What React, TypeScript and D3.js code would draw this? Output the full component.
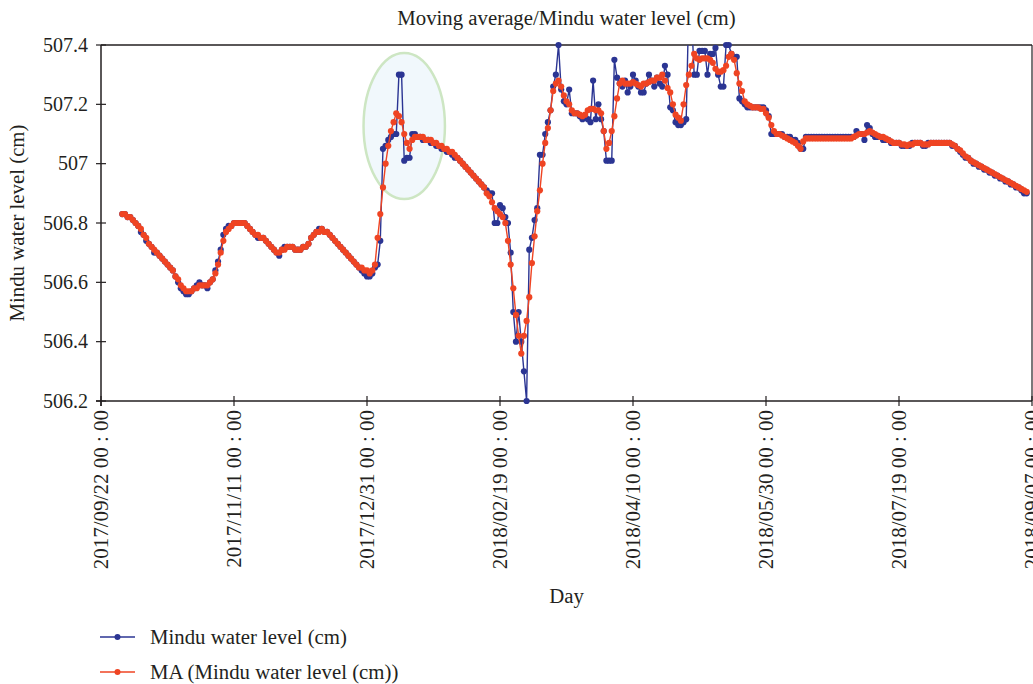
import React from "react";
import * as d3 from "d3";

const START_DATE = "2017-09-30";
const AXIS_START = "2017-09-22";
const AXIS_END = "2018-09-07";
const TICK_DATES = ["2017-09-22", "2017-11-11", "2017-12-31", "2018-02-19", "2018-04-10", "2018-05-30", "2018-07-19", "2018-09-07"];
const TICK_LABELS = ["2017/09/22 00 : 00", "2017/11/11 00 : 00", "2017/12/31 00 : 00", "2018/02/19 00 : 00", "2018/04/10 00 : 00", "2018/05/30 00 : 00", "2018/07/19 00 : 00", "2018/09/07 00 : 00"];
const Y_TICKS = [506.2, 506.4, 506.6, 506.8, 507, 507.2, 507.4];
const SERIES_NAMES = ["Mindu water level (cm)", "MA (Mindu water level (cm))"];
const TITLE = "Moving average/Mindu water level (cm)";
const X_TITLE = "Day";
const Y_TITLE = "Mindu water level (cm)";

// daily water level from 2017-09-30
const levels = [
  506.83, 506.83, 506.82, 506.82, 506.81, 506.80, 506.79, 506.77, 506.76, 506.74,
  506.73, 506.72, 506.70, 506.70, 506.69, 506.68, 506.67, 506.66, 506.65, 506.64,
  506.62, 506.60, 506.58, 506.57, 506.56, 506.56, 506.57, 506.58, 506.59, 506.60,
  506.59, 506.59, 506.58, 506.60, 506.61, 506.64, 506.67, 506.71, 506.76, 506.78,
  506.79, 506.79, 506.80, 506.80, 506.80, 506.80, 506.80, 506.79, 506.78, 506.77, 506.76,
  506.75, 506.75, 506.75, 506.74, 506.73, 506.72, 506.71, 506.70, 506.69, 506.71,
  506.72, 506.72, 506.72, 506.72, 506.71, 506.71, 506.71, 506.72, 506.72, 506.73, 506.75,
  506.76, 506.77, 506.78, 506.78, 506.77, 506.77, 506.76, 506.75, 506.74, 506.73,
  506.72, 506.71, 506.70, 506.69, 506.68, 506.67, 506.66, 506.65, 506.64, 506.63,
  506.62, 506.62, 506.63, 506.65, 506.66, 506.74, 507.05, 507.06, 507.08, 507.09,
  507.10, 507.10, 507.30, 507.30, 507.01, 507.02, 507.02, 507.10, 507.10, 507.09,
  507.09, 507.08, 507.08, 507.08, 507.07, 507.07, 507.06, 507.06, 507.05, 507.05, 507.04,
  507.04, 507.03, 507.02, 507.02, 507.01, 507.00, 506.99, 506.98, 506.97, 506.96,
  506.95, 506.94, 506.93, 506.92, 506.91, 506.90, 506.90, 506.80, 506.80, 506.86,
  506.85, 506.82, 506.80, 506.70, 506.50, 506.40, 506.50, 506.40, 506.30, 506.20,
  506.71, 506.75, 506.81, 506.85, 507.03, 507.03, 507.10, 507.14, 507.18, 507.26,
  507.30, 507.40, 507.25, 507.21, 507.20, 507.25, 507.17, 507.17, 507.17, 507.16, 507.15,
  507.16, 507.15, 507.14, 507.28, 507.15, 507.20, 507.15, 507.11, 507.01, 507.01,
  507.01, 507.35, 507.29, 507.27, 507.26, 507.28, 507.24, 507.26, 507.30, 507.28,
  507.26, 507.24, 507.24, 507.27, 507.30, 507.28, 507.26, 507.29, 507.27, 507.26,
  507.33, 507.30, 507.19, 507.18, 507.14, 507.13, 507.13, 507.14, 507.15, 507.55,
  507.50, 507.30, 507.30, 507.38, 507.38, 507.38, 507.30, 507.37, 507.37, 507.39,
  507.30, 507.26, 507.26, 507.40, 507.40, 507.37, 507.36, 507.36, 507.22, 507.21,
  507.20, 507.19, 507.19, 507.19, 507.19, 507.19, 507.19, 507.19, 507.18, 507.16, 507.10,
  507.10, 507.10, 507.10, 507.10, 507.09, 507.09, 507.09, 507.08, 507.08, 507.07,
  507.05, 507.05, 507.09, 507.09, 507.09, 507.09, 507.09, 507.09, 507.09, 507.09,
  507.09, 507.09, 507.09, 507.09, 507.09, 507.09, 507.09, 507.09, 507.09, 507.09, 507.09,
  507.11, 507.10, 507.10, 507.08, 507.13, 507.12, 507.10, 507.09, 507.09, 507.09,
  507.08, 507.08, 507.08, 507.07, 507.07, 507.07, 507.07, 507.06, 507.06, 507.06,
  507.06, 507.07, 507.07, 507.07, 507.07, 507.06, 507.06, 507.07, 507.07, 507.07,
  507.07, 507.07, 507.07, 507.07, 507.07, 507.07, 507.06, 507.06, 507.05, 507.04, 507.03,
  507.02, 507.02, 507.01, 507.00, 507.00, 506.99, 506.99, 506.98, 506.98, 506.97,
  506.97, 506.96, 506.96, 506.95, 506.95, 506.94, 506.94, 506.93, 506.93, 506.92,
  506.92, 506.91, 506.90, 506.90,
];

// moving average of the water level, same days
const movingAvg = [
  506.83, 506.83, 506.82, 506.82, 506.81, 506.80, 506.79, 506.78, 506.76, 506.75,
  506.73, 506.72, 506.71, 506.70, 506.69, 506.68, 506.67, 506.66, 506.65, 506.64,
  506.62, 506.61, 506.59, 506.58, 506.57, 506.57, 506.57, 506.58, 506.58, 506.59,
  506.59, 506.59, 506.59, 506.60, 506.61, 506.63, 506.66, 506.70, 506.74, 506.77,
  506.78, 506.79, 506.80, 506.80, 506.80, 506.80, 506.80, 506.79, 506.78, 506.77, 506.76,
  506.76, 506.75, 506.75, 506.74, 506.73, 506.72, 506.71, 506.70, 506.70, 506.71,
  506.71, 506.72, 506.72, 506.72, 506.71, 506.71, 506.71, 506.72, 506.72, 506.73, 506.75,
  506.76, 506.77, 506.77, 506.78, 506.77, 506.77, 506.76, 506.75, 506.74, 506.73,
  506.72, 506.71, 506.70, 506.69, 506.68, 506.67, 506.66, 506.65, 506.65, 506.64,
  506.64, 506.63, 506.64, 506.66, 506.75, 506.83, 506.92, 507.00, 507.06, 507.11,
  507.14, 507.17, 507.16, 507.14, 507.10, 507.07, 507.05, 507.08, 507.09, 507.09,
  507.09, 507.09, 507.08, 507.08, 507.08, 507.07, 507.07, 507.06, 507.06, 507.05, 507.05,
  507.04, 507.04, 507.03, 507.02, 507.01, 507.00, 506.99, 506.98, 506.97, 506.96,
  506.95, 506.94, 506.93, 506.92, 506.90, 506.89, 506.87, 506.85, 506.84, 506.83,
  506.82, 506.80, 506.74, 506.66, 506.58, 506.49, 506.42, 506.36, 506.42, 506.47,
  506.55, 506.665, 506.755, 506.84, 506.91, 507.00, 507.07, 507.12, 507.18, 507.245,
  507.27, 507.28, 507.26, 507.23, 507.21, 507.20, 507.18, 507.17, 507.17, 507.165, 507.16,
  507.165, 507.18, 507.185, 507.185, 507.18, 507.18, 507.17, 507.11, 507.05, 507.07,
  507.11, 507.16, 507.22, 507.27, 507.28, 507.27, 507.27, 507.27, 507.275, 507.27,
  507.265, 507.26, 507.27, 507.27, 507.275, 507.28, 507.28, 507.29, 507.29, 507.30,
  507.28, 507.255, 507.24, 507.20, 507.165, 507.155, 507.145, 507.20, 507.265, 507.30,
  507.33, 507.37, 507.355, 507.35, 507.355, 507.355, 507.355, 507.35, 507.34, 507.32,
  507.31, 507.31, 507.315, 507.33, 507.36, 507.37, 507.35, 507.305, 507.27, 507.245,
  507.21, 507.20, 507.195, 507.19, 507.19, 507.19, 507.185, 507.185, 507.17, 507.155, 507.13,
  507.11, 507.10, 507.10, 507.095, 507.09, 507.085, 507.08, 507.075, 507.07, 507.06,
  507.05, 507.075, 507.085, 507.085, 507.085, 507.085, 507.085, 507.085, 507.085, 507.085,
  507.085, 507.085, 507.085, 507.085, 507.085, 507.085, 507.085, 507.085, 507.085, 507.085, 507.09,
  507.095, 507.10, 507.10, 507.10, 507.105, 507.11, 507.105, 507.10, 507.095, 507.09,
  507.09, 507.085, 507.08, 507.075, 507.07, 507.07, 507.07, 507.065, 507.065, 507.06,
  507.065, 507.065, 507.07, 507.07, 507.07, 507.065, 507.065, 507.065, 507.07, 507.07,
  507.07, 507.07, 507.07, 507.07, 507.07, 507.07, 507.065, 507.06, 507.05, 507.045, 507.035,
  507.025, 507.02, 507.01, 507.005, 507.00, 506.995, 506.99, 506.985, 506.98, 506.975,
  506.97, 506.965, 506.96, 506.955, 506.95, 506.945, 506.94, 506.935, 506.93, 506.925,
  506.92, 506.915, 506.91, 506.905,
];

// highlighted anomaly (ellipse annotation)
const HIGHLIGHT_CENTER_DATE = "2018-01-14";
const HIGHLIGHT_CENTER_VALUE = 507.127;
const HIGHLIGHT_HALF_DAYS = 15.3;
const HIGHLIGHT_HALF_VALUE = 0.246;

const W = 1033;
const H = 684;
const M = { left: 101, right: 1032, top: 45, bottom: 401 };
const FONT = "'Liberation Serif', 'Times New Roman', serif";
const BLUE = "#2b3593";
const RED = "#ef4423";
const INK = "#231f20";
const MARKER_R = 3.1;

export default function App() {
  const parse = d3.utcParse("%Y-%m-%d");
  const start = parse(START_DATE) as Date;
  const x = d3.scaleUtc().domain([parse(AXIS_START) as Date, parse(AXIS_END) as Date]).range([M.left, M.right]);
  const y = d3.scaleLinear().domain([506.2, 507.4]).range([M.bottom, M.top]);

  const pts = (arr: number[]) => arr.map((v, i) => ({ d: d3.utcDay.offset(start, i), v }));
  const blue = pts(levels);
  const red = pts(movingAvg);
  const line = d3.line<{ d: Date; v: number }>().x((p) => x(p.d)).y((p) => y(p.v));

  const inRange = (v: number) => v >= 506.2 - 1e-9 && v <= 507.4 + 1e-9;

  const hc = parse(HIGHLIGHT_CENTER_DATE) as Date;
  const ecx = x(hc);
  const ecy = y(HIGHLIGHT_CENTER_VALUE);
  const perDay = x(d3.utcDay.offset(hc, 1)) - ecx;
  const eRx = perDay * HIGHLIGHT_HALF_DAYS;
  const eRy = y(HIGHLIGHT_CENTER_VALUE - HIGHLIGHT_HALF_VALUE) - ecy;

  const cxMid = (M.left + M.right) / 2;
  const cyMid = (M.top + M.bottom) / 2;

  return (
    <svg width={W} height={H} style={{ position: "absolute", left: 0, top: 0, background: "#fff" }} fontFamily={FONT}>
      <defs>
        <clipPath id="plot">
          <rect x={M.left} y={M.top} width={M.right - M.left} height={M.bottom - M.top} />
        </clipPath>
      </defs>
      <rect x={0} y={0} width={W} height={H} fill="#fff" />
      <ellipse cx={ecx} cy={ecy} rx={eRx} ry={eRy} fill="#f1f8fc" stroke="#cde6c3" strokeWidth={2.5} />

      {/* frame */}
      <line x1={M.left} x2={M.right} y1={M.top} y2={M.top} stroke={INK} strokeWidth={1.5} />
      <line x1={M.right} x2={M.right} y1={M.top} y2={M.bottom} stroke={INK} strokeWidth={1.2} />
      <line x1={M.left} x2={M.left} y1={M.top} y2={M.bottom + 5} stroke={INK} strokeWidth={1.5} />
      <line x1={M.left - 5} x2={M.right} y1={M.bottom} y2={M.bottom} stroke={INK} strokeWidth={1.5} />

      {Y_TICKS.map((t) => (
        <g key={t}>
          <line x1={M.left - 5} x2={M.left + 5} y1={y(t)} y2={y(t)} stroke={INK} strokeWidth={1.2} />
          <text x={M.left - 13} y={y(t)} dy="0.33em" textAnchor="end" fontSize={20} fill={INK}>
            {d3.format("")(t)}
          </text>
        </g>
      ))}
      {TICK_DATES.map((t, i) => {
        const xx = x(parse(t) as Date);
        return (
          <g key={t}>
            <line x1={xx} x2={xx} y1={M.bottom - 5} y2={M.bottom + 5} stroke={INK} strokeWidth={1.2} />
            <text transform={`translate(${xx + 7},${M.bottom + 9}) rotate(-90)`} textAnchor="end" fontSize={21} fill={INK}>
              {TICK_LABELS[i]}
            </text>
          </g>
        );
      })}

      <g clipPath="url(#plot)">
        <path d={line(blue) || ""} fill="none" stroke={BLUE} strokeWidth={1.4} />
      </g>
      {blue.filter((p) => inRange(p.v)).map((p, i) => (
        <circle key={"b" + i} cx={x(p.d)} cy={y(p.v)} r={MARKER_R} fill={BLUE} />
      ))}
      <g clipPath="url(#plot)">
        <path d={line(red) || ""} fill="none" stroke={RED} strokeWidth={1.4} />
      </g>
      {red.filter((p) => inRange(p.v)).map((p, i) => (
        <circle key={"r" + i} cx={x(p.d)} cy={y(p.v)} r={MARKER_R} fill={RED} />
      ))}

      <text x={cxMid} y={25} textAnchor="middle" fontSize={20.8} fill={INK}>{TITLE}</text>
      <text transform={`translate(24,${cyMid}) rotate(-90)`} textAnchor="middle" fontSize={20.8} fill={INK}>{Y_TITLE}</text>
      <text x={cxMid} y={603} textAnchor="middle" fontSize={20.8} fill={INK}>{X_TITLE}</text>

      {SERIES_NAMES.map((name, i) => {
        const ly = 637 + i * 35;
        const c = i === 0 ? BLUE : RED;
        return (
          <g key={name}>
            <line x1={100} x2={135} y1={ly} y2={ly} stroke={c} strokeWidth={1.5} />
            <circle cx={117.5} cy={ly} r={3} fill={c} />
            <text x={150} y={ly} dy="0.33em" fontSize={20.8} fill={INK}>{name}</text>
          </g>
        );
      })}
    </svg>
  );
}
